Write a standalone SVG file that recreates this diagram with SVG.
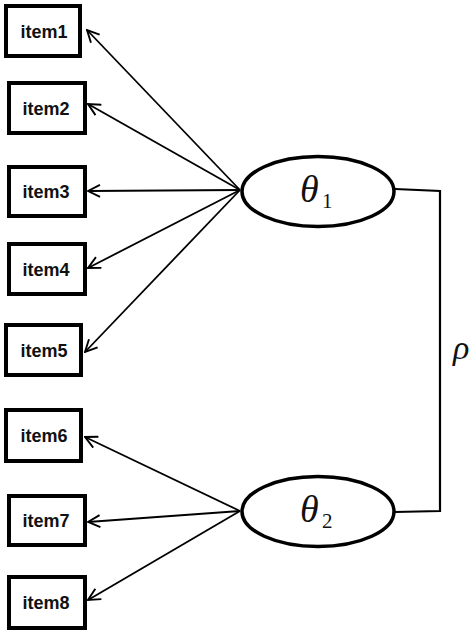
<svg xmlns="http://www.w3.org/2000/svg" width="474" height="635" viewBox="0 0 474 635">
<style>
.box{fill:#fff;stroke:#000;stroke-width:4}
.lbl{font-family:"Liberation Sans",Arial,sans-serif;font-weight:bold;font-size:18px;text-anchor:middle;fill:#111}
.lat{fill:#fff;stroke:#000;stroke-width:3.5}
.arr{stroke:#000;stroke-width:1.8;fill:none;marker-end:url(#ah)}
.conn{stroke:#000;stroke-width:2.2;fill:none}
.greek{font-family:"Liberation Serif","DejaVu Serif",serif;font-style:italic;fill:#111}
.sub{font-family:"Liberation Serif","DejaVu Serif",serif;fill:#111}
</style>
<defs>
<marker id="ah" viewBox="0 0 14 14" refX="13" refY="7" markerWidth="14" markerHeight="14" markerUnits="userSpaceOnUse" orient="auto">
<path d="M1,1 L13,7 L1,13" fill="none" stroke="#000" stroke-width="1.9"/>
</marker>
</defs>
<rect width="474" height="635" fill="#fff"/>
<g id="connectors">
<line class="arr" x1="240" y1="190" x2="87" y2="30"/>
<line class="arr" x1="240" y1="190" x2="88" y2="104"/>
<line class="arr" x1="240" y1="190" x2="88" y2="191"/>
<line class="arr" x1="240" y1="190" x2="88" y2="268"/>
<line class="arr" x1="240" y1="190" x2="85" y2="352"/>
<line class="arr" x1="240" y1="511" x2="85" y2="437"/>
<line class="arr" x1="240" y1="511" x2="88" y2="522"/>
<line class="arr" x1="240" y1="511" x2="88" y2="600"/>
<path class="conn" d="M395,189 L440,191 L440,511 L395,512"/>
<text class="greek" x="453" y="359" font-size="34">ρ</text>
</g>
<g id="item1"><rect class="box" x="6" y="6" width="74" height="50"/><text class="lbl" x="44" y="37.5">item1</text></g>
<g id="item2"><rect class="box" x="9" y="83" width="76" height="50"/><text class="lbl" x="46" y="114.5">item2</text></g>
<g id="item3"><rect class="box" x="9" y="167" width="76" height="49"/><text class="lbl" x="46" y="198">item3</text></g>
<g id="item4"><rect class="box" x="9" y="244" width="76" height="50"/><text class="lbl" x="46" y="275.5">item4</text></g>
<g id="item5"><rect class="box" x="6" y="325" width="75" height="50"/><text class="lbl" x="44" y="356.5">item5</text></g>
<g id="item6"><rect class="box" x="6" y="410" width="75" height="51"/><text class="lbl" x="44" y="442">item6</text></g>
<g id="item7"><rect class="box" x="9" y="496" width="76" height="49"/><text class="lbl" x="46" y="527">item7</text></g>
<g id="item8"><rect class="box" x="9" y="577" width="76" height="51"/><text class="lbl" x="46" y="609">item8</text></g>
<g id="theta1"><ellipse class="lat" cx="318" cy="191.5" rx="76" ry="35"/><text class="greek" x="300" y="202" font-size="38">θ</text><text class="sub" x="322" y="208" font-size="21">1</text></g>
<g id="theta2"><ellipse class="lat" cx="318" cy="511.5" rx="76" ry="35"/><text class="greek" x="300" y="522" font-size="38">θ</text><text class="sub" x="322" y="528" font-size="21">2</text></g>
</svg>
